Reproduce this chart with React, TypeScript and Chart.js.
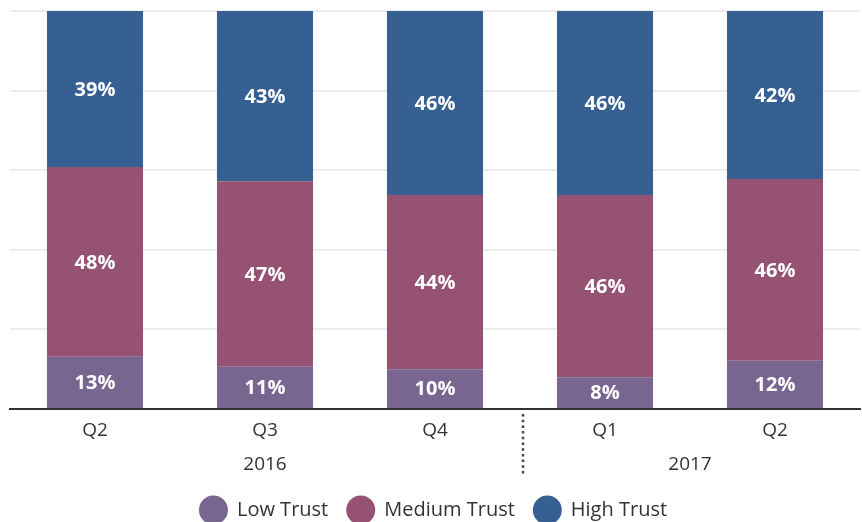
import React, { useEffect, useRef } from 'react';
import { Chart, registerables } from 'chart.js';
Chart.register(...registerables);

const quarters = ['Q2', 'Q3', 'Q4', 'Q1', 'Q2'];
const years = ['2016', '2016', '2016', '2017', '2017'];
const lowTrust = [13.1, 10.6, 10.0, 8.0, 12.1];
const mediumTrust = [47.7, 46.6, 43.8, 45.8, 45.7];
const highTrust = [39.2, 42.8, 46.2, 46.2, 42.2];
const seriesNames = ['Low Trust', 'Medium Trust', 'High Trust'];
const seriesColors = ['#786690', '#955272', '#365f92'];
const yMax = 100;
const yStep = 20;

const FONT = '"Open Sans", "Noto Sans", sans-serif';
const TEXT = '#333333';

const decorPlugin = {
  id: 'decor',
  afterDatasetsDraw(chart: any) {
    const ctx = chart.ctx;
    ctx.save();
    ctx.font = `bold 20px ${FONT}`;
    ctx.fillStyle = '#ffffff';
    ctx.textAlign = 'center';
    ctx.textBaseline = 'middle';
    chart.data.datasets.forEach((ds: any, i: number) => {
      const meta = chart.getDatasetMeta(i);
      meta.data.forEach((el: any, j: number) => {
        const { x, y, base } = el.getProps(['x', 'y', 'base'], true);
        ctx.fillText(Math.round(ds.data[j]) + '%', x, (y + base) / 2 + 1);
      });
    });
    ctx.restore();
  },
  afterDraw(chart: any) {
    const ctx = chart.ctx;
    const xs = chart.scales.x;
    const area = chart.chartArea;
    ctx.save();
    // year groups
    const groups: { label: string; start: number; end: number }[] = [];
    years.forEach((yr, i) => {
      const g = groups[groups.length - 1];
      if (g && g.label === yr) g.end = i;
      else groups.push({ label: yr, start: i, end: i });
    });
    ctx.font = `19px ${FONT}`;
    ctx.fillStyle = TEXT;
    ctx.textAlign = 'center';
    ctx.textBaseline = 'middle';
    groups.forEach((g, gi) => {
      const cx = (xs.getPixelForValue(g.start) + xs.getPixelForValue(g.end)) / 2;
      ctx.fillText(g.label, cx, area.bottom + 56);
      if (gi < groups.length - 1) {
        const sx = Math.round((xs.getPixelForValue(g.end) + xs.getPixelForValue(g.end + 1)) / 2) + 3;
        ctx.strokeStyle = '#444444';
        ctx.lineWidth = 2.5;
        ctx.setLineDash([2.5, 3.2]);
        ctx.beginPath();
        ctx.moveTo(sx, area.bottom + 5);
        ctx.lineTo(sx, area.bottom + 67);
        ctx.stroke();
        ctx.setLineDash([]);
      }
    });
    // legend
    const d = 29;
    const gap = 9;
    const between = 18;
    ctx.font = `20px ${FONT}`;
    const widths = seriesNames.map((n) => ctx.measureText(n).width);
    const total = widths.reduce((a, w) => a + d + gap + w, 0) + between * (seriesNames.length - 1);
    let x = (area.left + area.right) / 2 - 2 - total / 2;
    const ly = 510;
    ctx.textAlign = 'left';
    seriesNames.forEach((n, i) => {
      ctx.fillStyle = seriesColors[i];
      ctx.beginPath();
      ctx.arc(x + d / 2, ly, d / 2, 0, Math.PI * 2);
      ctx.fill();
      ctx.fillStyle = TEXT;
      ctx.fillText(n, x + d + gap, ly);
      x += d + gap + widths[i] + between;
    });
    ctx.restore();
  },
};

export default function App() {
  const ref = useRef<HTMLCanvasElement>(null);
  useEffect(() => {
    if (!ref.current) return;
    const chart = new Chart(ref.current, {
      type: 'bar',
      data: {
        labels: quarters,
        datasets: [
          { label: seriesNames[0], data: lowTrust, backgroundColor: seriesColors[0] },
          { label: seriesNames[1], data: mediumTrust, backgroundColor: seriesColors[1] },
          { label: seriesNames[2], data: highTrust, backgroundColor: seriesColors[2] },
        ],
      },
      options: {
        responsive: false,
        animation: false,
        devicePixelRatio: 1,
        layout: { padding: { left: 10, right: 2, top: 11, bottom: 0 } },
        datasets: { bar: { categoryPercentage: 1, barPercentage: 0.565, borderWidth: 0 } },
        plugins: { legend: { display: false }, tooltip: { enabled: false } },
        scales: {
          x: {
            stacked: true,
            grid: { display: false, drawTicks: false },
            border: { display: true, color: '#333333', width: 2 },
            ticks: { color: TEXT, font: { family: FONT, size: 19 }, padding: 10 },
            afterFit: (s: any) => { s.height = 113; },
          },
          y: {
            stacked: true,
            min: 0,
            max: yMax,
            ticks: { display: false, stepSize: yStep },
            grid: { color: '#ececec', lineWidth: 2, drawTicks: false },
            border: { display: false },
            afterFit: (s: any) => { s.width = 0; },
          },
        },
      },
      plugins: [decorPlugin],
    });
    return () => chart.destroy();
  }, []);
  return (
    <div style={{ position: 'absolute', left: 0, top: 0, width: 862, height: 522, background: '#fff' }}>
      <canvas ref={ref} width={862} height={522} />
    </div>
  );
}
